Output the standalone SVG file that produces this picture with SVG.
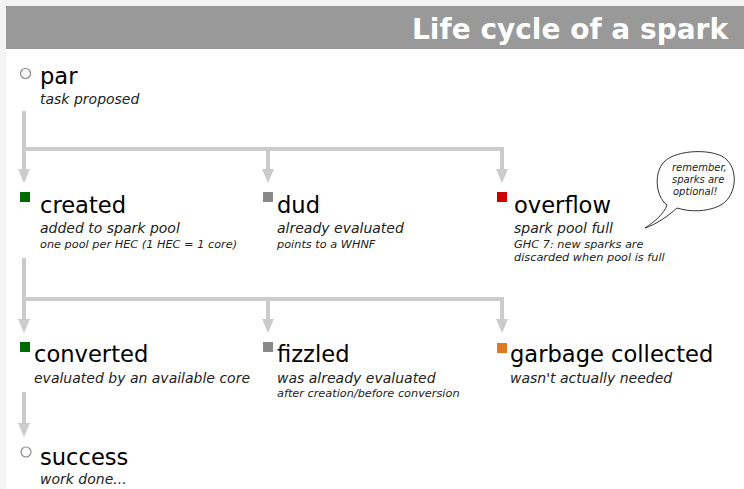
<svg xmlns="http://www.w3.org/2000/svg" width="744" height="489" viewBox="0 0 744 489">
  <style>
    text { font-family: "DejaVu Sans", "Liberation Sans", sans-serif; fill: #000; }
    .title { font-size: 28px; font-weight: bold; fill: #fff; }
    .name { font-size: 22.6px; }
    .sub { font-size: 14px; font-style: italic; fill: #222; }
    .note { font-size: 11.3px; font-style: italic; fill: #222; }
    .bubble { font-size: 10px; font-style: italic; fill: #222; }
    .flow { fill: none; stroke: #cbcbcb; stroke-width: 4; stroke-linejoin: miter; }
    .ring { fill: #fff; stroke: #8a8a8a; stroke-width: 1.2; }
  </style>
  <defs>
    <marker id="arrow" markerUnits="userSpaceOnUse" viewBox="0 0 14 12" refX="0" refY="6" markerWidth="14" markerHeight="12" orient="auto">
      <path d="M0,0 L14,6 L0,12 z" fill="#cbcbcb"/>
    </marker>
  </defs>

  <!-- page frame -->
  <rect x="0" y="0" width="744" height="489" fill="#f4f4f4"/>
  <rect x="6" y="6" width="738" height="483" fill="#fff"/>

  <!-- title bar -->
  <g id="header">
    <rect x="6" y="6" width="738" height="43" fill="#999"/>
    <text class="title" x="728" y="38.5" text-anchor="end">Life cycle of a spark</text>
  </g>

  <!-- connectors -->
  <g id="connectors">
    <path class="flow" d="M24,111 V169" marker-end="url(#arrow)"/>
    <path class="flow" d="M24,149 H502 V169" marker-end="url(#arrow)"/>
    <path class="flow" d="M268,149 V169" marker-end="url(#arrow)"/>
    <path class="flow" d="M24,258 V319" marker-end="url(#arrow)"/>
    <path class="flow" d="M24,299 H502 V319" marker-end="url(#arrow)"/>
    <path class="flow" d="M268,299 V319" marker-end="url(#arrow)"/>
    <path class="flow" d="M24,392 V423" marker-end="url(#arrow)"/>
  </g>

  <!-- states -->
  <g id="par">
    <circle class="ring" cx="25.5" cy="73.5" r="5"/>
    <text class="name" x="40" y="84">par</text>
    <text class="sub" x="40" y="104">task proposed</text>
  </g>

  <g id="created">
    <rect x="20" y="192" width="10" height="10" fill="#006b00"/>
    <text class="name" x="40" y="213">created</text>
    <text class="sub" x="40" y="233">added to spark pool</text>
    <text class="note" x="40" y="247.5">one pool per HEC (1 HEC = 1 core)</text>
  </g>

  <g id="dud">
    <rect x="263" y="192" width="10" height="10" fill="#888"/>
    <text class="name" x="277" y="213">dud</text>
    <text class="sub" x="277" y="233">already evaluated</text>
    <text class="note" x="277" y="247.5">points to a WHNF</text>
  </g>

  <g id="overflow">
    <rect x="497" y="192" width="10" height="10" fill="#cc0000"/>
    <text class="name" x="514" y="213">overflow</text>
    <text class="sub" x="514" y="233">spark pool full</text>
    <text class="note" x="514" y="247.5">GHC 7: new sparks are</text>
    <text class="note" x="514" y="261">discarded when pool is full</text>
  </g>

  <g id="reminder">
    <path d="M645,228 C654,222 664,214 667,205 C655,196 654,172 664,162 C676,149 716,148 727,160 C739,172 736,198 719,206 C706,212 690,212 677,208 C668,216 657,224 645,228 Z" fill="#fff" stroke="#333" stroke-width="1"/>
    <text class="bubble" x="672" y="171">remember,</text>
    <text class="bubble" x="672" y="183">sparks are</text>
    <text class="bubble" x="673" y="195">optional!</text>
  </g>

  <g id="converted">
    <rect x="20" y="342" width="10" height="10" fill="#006b00"/>
    <text class="name" x="34" y="362">converted</text>
    <text class="sub" x="34" y="383">evaluated by an available core</text>
  </g>

  <g id="fizzled">
    <rect x="263" y="342" width="10" height="10" fill="#888"/>
    <text class="name" x="277" y="362">fizzled</text>
    <text class="sub" x="277" y="383">was already evaluated</text>
    <text class="note" x="277" y="397">after creation/before conversion</text>
  </g>

  <g id="garbage-collected">
    <rect x="497" y="343" width="10" height="10" fill="#e07820"/>
    <text class="name" x="510" y="362">garbage collected</text>
    <text class="sub" x="510" y="383">wasn't actually needed</text>
  </g>

  <g id="success">
    <circle class="ring" cx="26" cy="452" r="5"/>
    <text class="name" x="40" y="465">success</text>
    <text class="sub" x="40" y="484">work done...</text>
  </g>
</svg>
